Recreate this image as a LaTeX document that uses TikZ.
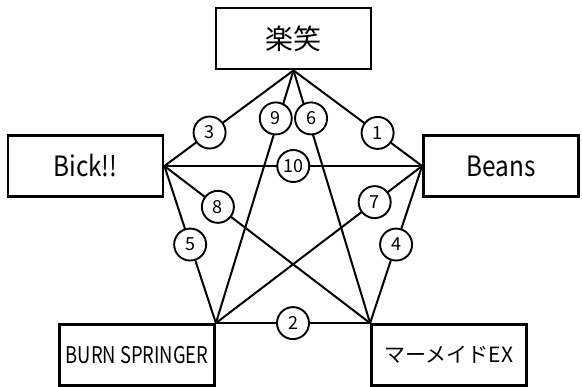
\documentclass[tikz,border=0pt]{standalone}
\usepackage{fontspec}
\setmainfont{Noto Sans CJK JP}
\newfontfamily\jpn{Noto Sans CJK JP}
\newfontfamily\jpnarrow[FakeStretch=0.87]{Noto Sans CJK JP}
\newfontfamily\jpcond[FakeStretch=0.8]{Noto Sans CJK JP}
\begin{document}
\begin{tikzpicture}[x=1pt,y=-1pt,
  box/.style={draw, line width=2.8pt, fill=white, minimum width=155pt, minimum height=61pt, inner sep=0pt},
  link/.style={line width=2pt},
  num/.style={draw, circle, line width=1.9pt, fill=white, minimum size=32pt, inner sep=0pt, font=\jpn\fontsize{18}{18}\selectfont}]
\useasboundingbox (0,0) rectangle (582,387);
\node[box, font=\jpn\fontsize{28}{28}\selectfont] (top) at (293.5,38.5) {楽笑};
\node[box, font=\jpnarrow\fontsize{28}{28}\selectfont] (bick) at (85.5,166) {Bick!!};
\node[box, font=\jpnarrow\fontsize{28}{28}\selectfont] (beans) at (501,166) {Beans};
\node[box, font=\jpcond\fontsize{23}{23}\selectfont] (bl) at (137,355) {BURN SPRINGER};
\node[box, font=\jpn\fontsize{21}{21}\selectfont] (br) at (449,355) {マーメイドEX};
\draw[link] (top.south) -- (beans.west) node[num,pos=0.654] (n1) {1};
\draw[link] (bl.north east) -- (br.north west) node[num,pos=0.5] (n2) {2};
\draw[link] (top.south) -- (bick.east) node[num,pos=0.65] (n3) {3};
\draw[link] (beans.west) -- (br.north west) node[num,pos=0.5] (n4) {4};
\draw[link] (bick.east) -- (bl.north east) node[num,pos=0.5] (n5) {5};
\draw[link] (top.south) -- (br.north west) node[num,pos=0.19,xshift=3pt] (n6) {6};
\draw[link] (beans.west) -- (bl.north east) node[num,pos=0.23] (n7) {7};
\draw[link] (bick.east) -- (br.north west) node[num,pos=0.26] (n8) {8};
\draw[link] (top.south) -- (bl.north east) node[num,pos=0.19,xshift=-3pt] (n9) {9};
\draw[link] (bick.east) -- (beans.west) node[num,pos=0.5] (n10) {10};
\end{tikzpicture}
\end{document}
